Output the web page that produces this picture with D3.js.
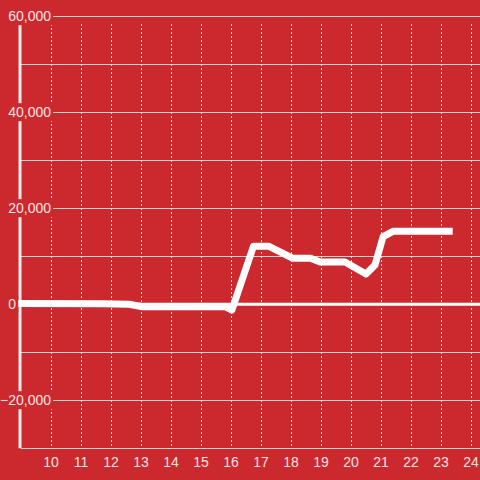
<!DOCTYPE html>
<html>
<head>
<meta charset="utf-8">
<script src="https://cdn.jsdelivr.net/npm/d3@7"></script>
<style>
  html, body { margin: 0; padding: 0; background: #cc292e; }
  svg { display: block; }
  text { font-family: "Liberation Sans", Arial, sans-serif; font-size: 14px; fill: #f6e4e4; }
</style>
</head>
<body>
<svg class="chart"></svg>
<script>
var width = 480;
var height = 480;
var bg = "#cc292e";

// series (x = hour, y = value)
var hours = [8.8, 11.7, 12.6, 13.05, 15.8, 16.03, 16.75, 17.25, 18.05, 18.65, 18.97, 19.8, 20.5, 20.8, 21.07, 21.4, 23.39];
var values = [150, 100, 0, -500, -500, -1200, 12100, 12100, 9600, 9600, 8800, 8800, 6300, 8200, 14100, 15200, 15200];

var xTicks = [10, 11, 12, 13, 14, 15, 16, 17, 18, 19, 20, 21, 22, 23, 24];
var yGrid = [-30000, -20000, -10000, 0, 10000, 20000, 30000, 40000, 50000, 60000];
var yLabels = [-20000, 0, 20000, 40000, 60000];

var x = d3.scaleLinear().domain([9, 24.3]).range([21, 480]);
var y = d3.scaleLinear().domain([-30000, 60000]).range([448.3, 16.3]);

var chart = d3.select(".chart")
    .attr("width", width)
    .attr("height", height);

chart.append("rect").attr("width", width).attr("height", height).attr("fill", bg);

// horizontal grid
chart.selectAll("line.hgrid")
    .data(yGrid)
    .enter()
    .append("line")
    .attr("class", "hgrid")
    .attr("x1", x(9)).attr("x2", width)
    .attr("y1", function(d) { return Math.round(y(d)) + 0.5; })
    .attr("y2", function(d) { return Math.round(y(d)) + 0.5; })
    .attr("stroke", "#d8d2d2")
    .attr("stroke-width", 1);

// dotted vertical grid
chart.selectAll("line.vgrid")
    .data(xTicks)
    .enter()
    .append("line")
    .attr("class", "vgrid")
    .attr("x1", function(d) { return Math.round(x(d)) + 0.5; })
    .attr("x2", function(d) { return Math.round(x(d)) + 0.5; })
    .attr("y1", 24).attr("y2", 446)
    .attr("stroke", "#eee8e8")
    .attr("stroke-dasharray", "2,2");

// y axis + zero line
chart.append("line")
    .attr("x1", x(9) - 1).attr("x2", x(9) - 1)
    .attr("y1", y(-30000)).attr("y2", 24)
    .attr("stroke", "#f2eeee").attr("stroke-width", 3);

chart.append("line")
    .attr("x1", x(9)).attr("x2", width)
    .attr("y1", y(0)).attr("y2", y(0))
    .attr("stroke", "#ffffff").attr("stroke-width", 3);

// data line
var line = d3.line()
    .x(function(d) { return x(d[0]); })
    .y(function(d) { return y(d[1]); });

chart.append("path")
    .datum(d3.zip(hours, values))
    .attr("d", line)
    .attr("fill", "none")
    .attr("stroke", "#ffffff")
    .attr("stroke-width", 7)
    .attr("stroke-linejoin", "round");

// y labels with background boxes (drawn on top, they mask lines)
var fmt = d3.format(",");
var yl = chart.selectAll("g.ylab")
    .data(yLabels)
    .enter()
    .append("g")
    .attr("class", "ylab");

yl.append("text")
    .attr("x", function(d) { return d === 0 ? 16 : 51; }) // the zero label sits by the axis
    .attr("y", function(d) { return y(d); })
    .attr("dy", "0.35em")
    .attr("text-anchor", "end")
    .text(function(d) { return fmt(d); });

yl.each(function() {
    var g = d3.select(this);
    var bb = g.select("text").node().getBBox();
    g.insert("rect", "text")
        .attr("x", bb.x - 2).attr("y", bb.y - 1)
        .attr("width", bb.width + 4).attr("height", bb.height + 2)
        .attr("fill", bg);
});

// x labels
chart.selectAll("text.xlab")
    .data(xTicks)
    .enter()
    .append("text")
    .attr("class", "xlab")
    .attr("x", function(d) { return x(d); })
    .attr("y", 467)
    .attr("text-anchor", "middle")
    .text(function(d) { return d; });
</script>
</body>
</html>
